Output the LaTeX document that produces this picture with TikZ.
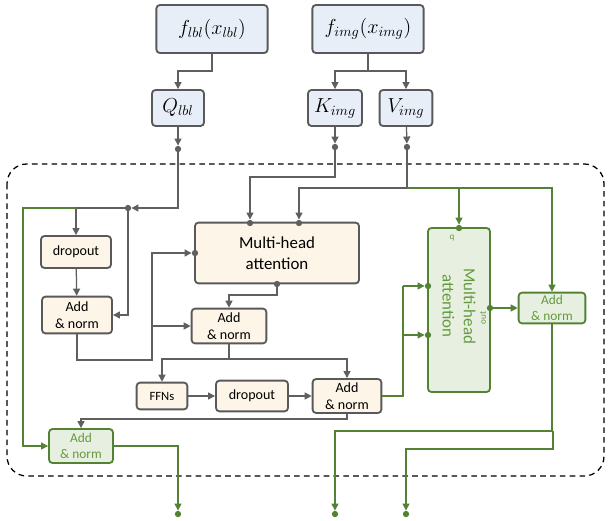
\documentclass[tikz,border=0pt]{standalone}
\usepackage{fontspec}
\setmainfont{Carlito}
\usepackage{xcolor}
\usetikzlibrary{arrows.meta, positioning, calc}

\definecolor{lineGray}{HTML}{5F5F5F}
\definecolor{boxGray}{HTML}{595959}
\definecolor{blueFill}{HTML}{E8EEF7}
\definecolor{creamFill}{HTML}{FDF5E8}
\definecolor{darkGreen}{HTML}{548235}
\definecolor{greenFill}{HTML}{E7F0E0}
\definecolor{textGreen}{HTML}{649A3F}

\begin{document}
\begin{tikzpicture}[
    x=0.025cm, y=-0.025cm,
    box/.style={rectangle, draw=boxGray, line width=1.3pt, rounded corners=2.5pt, fill=creamFill, align=center, inner sep=0pt, font=\fontsize{10}{12}\selectfont},
    inbox/.style={box, fill=blueFill, font=\fontsize{14}{16}\selectfont},
    gbox/.style={box, draw=darkGreen, fill=greenFill, text=textGreen},
    arrow/.style={-{Triangle[length=5pt,width=5pt]}, line width=0.9pt, draw=lineGray},
    garrow/.style={arrow, draw=darkGreen},
    line/.style={line width=0.9pt, draw=lineGray},
    gline/.style={line, draw=darkGreen},
    dot/.style={circle, fill=lineGray, inner sep=0pt, minimum size=4.5pt},
    gdot/.style={dot, fill=darkGreen}
]
    \useasboundingbox (0,0) rectangle (608,521);

    % Outer block
    \draw[dashed, line width=0.9pt, rounded corners=14pt, dash pattern=on 4pt off 3pt] (7,164) rectangle (604,476);

    % Inputs
    \node[inbox, minimum width=2.78cm, minimum height=1.2cm] (flbl) at (212,29) {$f_{lbl}(x_{lbl})$};
    \node[inbox, minimum width=2.78cm, minimum height=1.2cm] (fimg) at (368,29) {$f_{img}(x_{img})$};
    \node[inbox, minimum width=1.3cm, minimum height=0.9cm] (qlbl) at (178,108) {$Q_{lbl}$};
    \node[inbox, minimum width=1.35cm, minimum height=0.9cm] (kimg) at (335,108) {$K_{img}$};
    \node[inbox, minimum width=1.32cm, minimum height=0.9cm] (vimg) at (406,108) {$V_{img}$};

    % Self-attention branch
    \node[box, minimum width=1.75cm, minimum height=0.8cm] (dropA) at (76,252) {dropout};
    \node[box, minimum width=1.75cm, minimum height=0.92cm] (addA) at (77,315) {Add\\\& norm};
    \node[box, minimum width=4.1cm, minimum height=1.52cm, font=\fontsize{12}{15}\selectfont] (mha) at (277,253) {Multi-head\\attention};
    \node[box, minimum width=1.87cm, minimum height=0.87cm] (addB) at (229,326) {Add\\\& norm};
    \node[box, minimum width=1.27cm, minimum height=0.67cm, font=\fontsize{9}{11}\selectfont] (ffn) at (162,396) {FFNs};
    \node[box, minimum width=1.8cm, minimum height=0.77cm] (dropB) at (252,396) {dropout};
    \node[box, minimum width=1.72cm, minimum height=0.85cm] (addC) at (347,396) {Add\\\& norm};

    % Cross-attention branch
    \node[gbox, minimum width=1.55cm, minimum height=4.1cm] (gmha) at (459,310) {};
    \node[text=textGreen, rotate=-90, align=center, font=\fontsize{12}{15}\selectfont] (gmhaText) at (459,306) {Multi-head\\attention};
    \node[gbox, minimum width=1.67cm, minimum height=0.77cm, font=\fontsize{9.5}{11.5}\selectfont] (gaddR) at (552,308) {Add\\\& norm};
    \node[gbox, minimum width=1.6cm, minimum height=0.85cm, font=\fontsize{9.5}{11.5}\selectfont] (gaddL) at (81,446) {Add\\\& norm};
    \node[text=textGreen, font=\fontsize{6.5}{7}\selectfont] (qTag) at (452,238) {q};
    \node[text=textGreen, rotate=90, font=\fontsize{6.5}{7}\selectfont] (outTag) at (483,318) {out};

    % Dots
    \node[dot] (qd) at (178,149) {};
    \node[dot] (kd) at (335,147) {};
    \node[dot] (vd) at (407,147) {};
    \node[dot] (jd) at (128,208) {};
    \node[dot] (mhaK) at (250,223) {};
    \node[dot] (mhaV) at (299,223) {};
    \node[dot] (mhaL) at (195,253) {};
    \node[dot] (mhaO) at (277,284) {};
    \node[gdot] (gq) at (459,228) {};
    \node[gdot] (gk) at (428,286) {};
    \node[gdot] (gv) at (428,335) {};
    \node[gdot] (go) at (490,308) {};
    \node[gdot] (outA) at (178,514) {};
    \node[gdot] (outB) at (335,514) {};
    \node[gdot] (outC) at (406,514) {};

    % Input arrows
    \draw[arrow] (flbl.south) |- (178,71) -- (qlbl.north);
    \draw[line] (fimg.south) -- (368,71);
    \draw[arrow] (368,71) -| (kimg.north);
    \draw[arrow] (368,71) -| (vimg.north);
    \draw[arrow] (qlbl) -- (qd);
    \draw[arrow] (kimg) -- (kd);
    \draw[arrow] (vimg) -- (vd);

    % Query path
    \draw[arrow] (qd) |- (jd);
    \draw[arrow] (jd) |- (addA.east);
    \draw[line] (jd) -- (76,208);
    \draw[arrow] (76,208) -- (dropA.north);
    \draw[garrow] (76,208) -- (23,208) |- (gaddL.west);
    \draw[arrow] (dropA) -- (addA);

    % Key / value paths
    \draw[arrow] (kd) -- (335,177) -| (mhaK);
    \draw[arrow] (vd) -- (407,188) -| (mhaV);
    \draw[garrow] (407,188) -| (gq);
    \draw[garrow] (407,188) -| (gaddR.north);

    % Self-attention block
    \draw[arrow] (addA.south) |- (152,360) |- (mhaL);
    \draw[arrow] (addB.west -| 152,0) -- (addB.west);
    \draw[arrow] (mhaO) -- (277,295) -| (addB.north);
    \draw[arrow] (addB.south) -- (229,359) -| (ffn.north);
    \draw[arrow] (229,359) -| (addC.north);
    \draw[arrow] (ffn) -- (dropB);
    \draw[arrow] (dropB) -- (addC);
    \draw[arrow] (addC.south) -- (347,419) -| (gaddL.north);

    % Cross-attention block
    \draw[gline] (addC.east) -| (403,286);
    \draw[garrow] (403,286) -- (gk);
    \draw[garrow] (403,335) -- (gv);
    \draw[garrow] (go) -- (gaddR.west);

    % Outputs
    \draw[garrow] (gaddL.east) -| (outA);
    \draw[garrow] (gaddR.south) |- (335,431) -- (outB);
    \draw[garrow] (553,431) |- (406,449) -- (outC);
\end{tikzpicture}
\end{document}
